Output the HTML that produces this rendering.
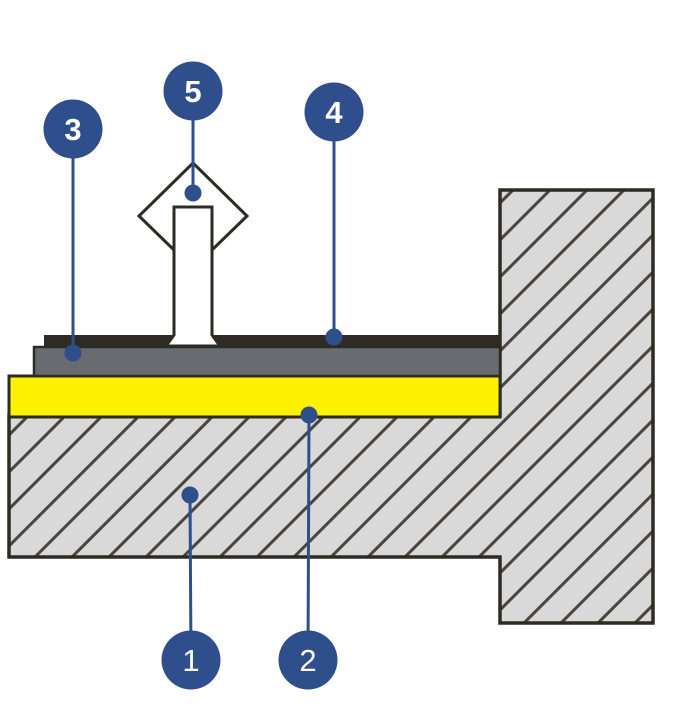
<!DOCTYPE html>
<html><head><meta charset="utf-8"><style>html,body{margin:0;padding:0;background:#fff}svg{display:block}</style></head>
<body>
<svg width="692" height="708" viewBox="0 0 692 708" xmlns="http://www.w3.org/2000/svg">
<defs>
<pattern id="h" patternUnits="userSpaceOnUse" width="37" height="37" patternTransform="translate(0,0)">
<rect width="37" height="37" fill="#d9d9d9"/>
<path d="M-5,42 L42,-5 M-5,5 L5,-5 M32,42 L42,32" stroke="#4a4540" stroke-width="3"/>
</pattern>
</defs>
<path d="M9,416 L500,416 L500,190 L653,190 L653,623 L500,623 L500,557 L9,557 Z" fill="url(#h)" stroke="#2e2a24" stroke-width="3.5"/>
<rect x="9" y="376" width="491" height="41" fill="#fff200" stroke="#2e2a24" stroke-width="3"/>
<rect x="34" y="347" width="466" height="29" fill="#686c70" stroke="#2e2a24" stroke-width="2.5"/>
<rect x="44" y="335" width="456" height="12" fill="#2e2a24"/>
<!-- screw -->
<path d="M174,250 L139,216 L193,163 L247,216 L212,250" fill="none" stroke="#2e2a24" stroke-width="3"/>
<path d="M174,207 L212,207 L212,335 L220,346 L166,346 L174,335 Z" fill="#fff" stroke="#2e2a24" stroke-width="3"/>
<g stroke="#2f4f8c" stroke-width="3" fill="#2f4f8c">
<line x1="193" y1="91" x2="193" y2="193"/><circle cx="193" cy="193" r="7"/>
<line x1="73" y1="129" x2="73" y2="353"/><circle cx="73" cy="353" r="7"/>
<line x1="334" y1="112" x2="334" y2="337"/><circle cx="334" cy="337" r="7"/>
<line x1="309" y1="415" x2="308" y2="660"/><circle cx="309" cy="415" r="7"/>
<line x1="190" y1="495" x2="191" y2="660"/><circle cx="190" cy="495" r="7"/>
</g>
<g fill="#2f4f8c">
<circle cx="193" cy="91" r="29.5"/><circle cx="73" cy="129" r="29.5"/><circle cx="334" cy="112" r="29.5"/>
<circle cx="191" cy="660" r="29.5"/><circle cx="308" cy="660" r="29.5"/>
</g>
<g fill="#fff" font-family="Liberation Sans, sans-serif" font-size="31" text-anchor="middle">
<text x="193" y="102" font-weight="bold">5</text>
<text x="73" y="140" font-weight="bold">3</text>
<text x="334" y="123" font-weight="bold">4</text>
<text x="191" y="671">1</text>
<text x="308" y="671">2</text>
</g>
</svg>
</body></html>
